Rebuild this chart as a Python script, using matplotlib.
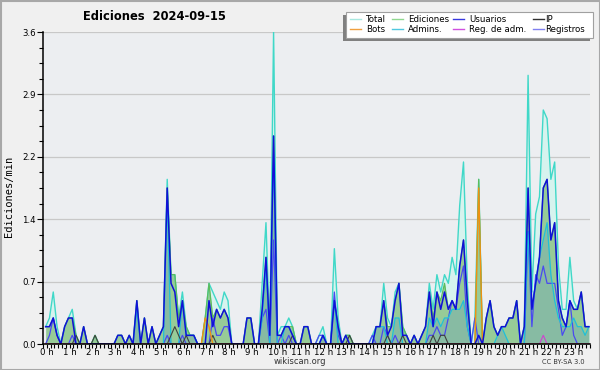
import numpy as np
import matplotlib
matplotlib.use('Agg')
from matplotlib import pyplot as plt
from matplotlib.patches import Rectangle
from matplotlib.ticker import FixedLocator, MultipleLocator


# edits per minute, one value per 10 minute bucket (144 buckets, 0h .. 23h50)
total = [
    .2, .3, .6, .2, 0, .2, .3, .4, .1, 0, .2, 0,
    0, .1, 0, 0, 0, 0, 0, .1, .1, 0, .1, 0,
    .5, 0, .3, 0, .2, 0, .1, .2, 1.9, .8, .8, .3,
    .6, .2, .1, .1, 0, 0, .3, .7, .6, .5, .4, .6,
    .5, 0, 0, 0, 0, .3, .3, 0, 0, .7, 1.4, .1,
    3.6, .1, .2, .2, .3, .2, 0, 0, .2, .2, 0, 0,
    .1, .2, 0, 0, 1.1, .3, 0, .1, .1, 0, 0, 0,
    0, 0, .1, .2, .2, .7, .3, .2, .6, .7, .2, .1,
    0, .1, 0, .1, .2, .7, .4, .8, .6, .8, .7, 1.0,
    .8, 1.6, 2.1, .7, 0, .3, 1.9, 0, .3, .5, .2, .1,
    .2, .2, .3, .3, .5, 0, .2, 3.1, .6, 1.5, 1.7, 2.7,
    2.6, 1.9, 2.1, .9, .4, .4, 1.0, .5, .4, .6, .2, .2]

ediciones = [
    .2, .2, .3, .1, 0, .2, .3, .3, .1, 0, .2, 0,
    0, .1, 0, 0, 0, 0, 0, .1, .1, 0, .1, 0,
    .5, 0, .3, 0, .2, 0, .1, .2, 1.8, .8, .8, .3,
    .5, .2, .1, .1, 0, 0, .3, .7, .3, .4, .3, .4,
    .3, 0, 0, 0, 0, .3, .3, 0, 0, .4, 1.0, .1,
    2.4, .1, .1, .2, .2, .2, 0, 0, .2, .2, 0, 0,
    0, .1, 0, 0, .5, .2, 0, .1, .1, 0, 0, 0,
    0, 0, 0, .2, .2, .5, .2, .2, .5, .7, .2, .1,
    0, .1, 0, .1, .2, .6, .3, .6, .5, .7, .4, .5,
    .4, .9, 1.2, .5, 0, 0, 1.9, 0, .3, .5, .2, .1,
    .2, .2, .3, .3, .5, 0, .2, 1.8, .4, .7, 1.0, 1.8,
    1.9, 1.2, 1.4, .5, .3, .2, .5, .4, .4, .6, .2, .2]

usuarios = [
    .2, .2, .3, .1, 0, .2, .3, .3, 0, 0, .2, 0,
    0, 0, 0, 0, 0, 0, 0, .1, .1, 0, .1, 0,
    .5, 0, .3, 0, .2, 0, .1, .2, 1.8, .7, .6, .2,
    .5, .1, .1, .1, 0, 0, 0, .5, .2, .4, .3, .4,
    .3, 0, 0, 0, 0, .3, .3, 0, 0, .4, 1.0, .1,
    2.4, .1, .1, .2, .2, .1, 0, 0, .2, .2, 0, 0,
    0, .1, 0, 0, .5, .2, 0, .1, 0, 0, 0, 0,
    0, 0, 0, .2, .2, .5, .1, .2, .5, .7, .1, .1,
    0, .1, 0, .1, .2, .6, .2, .6, .4, .6, .4, .5,
    .4, .9, 1.2, .5, 0, 0, .1, 0, .3, .5, .2, .1,
    .2, .2, .3, .3, .5, 0, .2, 1.8, .4, .7, 1.0, 1.8,
    1.9, 1.2, 1.4, .5, .3, .2, .5, .4, .4, .6, .2, .2]

ip = [
    0, 0, 0, 0, 0, 0, 0, 0, .1, 0, 0, 0,
    0, .1, 0, 0, 0, 0, 0, 0, 0, 0, 0, 0,
    0, 0, 0, 0, 0, 0, 0, 0, 0, .1, .2, .1,
    0, .1, 0, 0, 0, 0, 0, 0, .1, 0, 0, 0,
    0, 0, 0, 0, 0, 0, 0, 0, 0, 0, 0, 0,
    0, 0, 0, 0, 0, .1, 0, 0, 0, 0, 0, 0,
    0, 0, 0, 0, 0, 0, 0, 0, .1, 0, 0, 0,
    0, 0, 0, 0, 0, 0, .1, 0, 0, 0, .1, 0,
    0, 0, 0, 0, 0, 0, .1, 0, .1, .1, 0, 0,
    0, 0, 0, 0, 0, 0, 0, 0, 0, 0, 0, 0,
    0, 0, 0, 0, 0, 0, 0, 0, 0, 0, 0, 0,
    0, 0, 0, 0, 0, 0, 0, 0, 0, 0, 0, 0]

bots = [0] * 144
bots[42], bots[43], bots[114] = .3, .2, 1.8

admins = [
    0, 0, 0, 0, 0, 0, 0, 0, 0, 0, 0, 0,
    0, 0, 0, 0, 0, 0, 0, 0, 0, 0, 0, 0,
    .4, 0, 0, 0, 0, 0, 0, 0, 1.7, 0, 0, 0,
    .5, .1, .1, .1, 0, 0, 0, 0, 0, 0, 0, 0,
    0, 0, 0, 0, 0, 0, 0, 0, 0, .3, .9, 0,
    2.2, 0, 0, .2, .2, .1, 0, 0, 0, 0, 0, 0,
    0, .1, 0, 0, .5, 0, 0, 0, 0, 0, 0, 0,
    0, 0, 0, .2, .2, .2, 0, 0, .3, .3, 0, 0,
    0, 0, 0, 0, 0, .3, .2, .3, .2, .3, .3, .4,
    .4, .4, .5, .2, 0, 0, 0, 0, 0, 0, 0, .1,
    .2, .1, 0, 0, 0, 0, 0, 1.3, .4, .7, 1.0, 1.2,
    1.4, .8, .5, .3, .2, .2, .2, .3, .2, .2, .1, .2]

reg_adm = [0] * 144
reg_adm[131] = .1

registros = [
    0, .1, .3, .1, 0, 0, 0, .1, 0, 0, 0, 0,
    0, 0, 0, 0, 0, 0, 0, 0, 0, 0, 0, 0,
    0, 0, 0, 0, 0, 0, 0, 0, .1, 0, 0, 0,
    .1, 0, 0, 0, 0, 0, 0, 0, .3, .1, .1, .2,
    .2, 0, 0, 0, 0, 0, 0, 0, 0, .3, .4, 0,
    1.2, 0, .1, 0, .1, 0, 0, 0, 0, 0, 0, 0,
    .1, .1, 0, 0, .6, .1, 0, 0, 0, 0, 0, 0,
    0, 0, .1, 0, 0, .2, .1, 0, .1, 0, 0, 0,
    0, 0, 0, 0, 0, .1, .1, .2, .1, .1, .3, .5,
    .4, .7, .9, .2, 0, .3, 0, 0, 0, 0, 0, 0,
    0, 0, 0, 0, 0, 0, 0, 1.3, .2, .8, .7, .9,
    .7, .7, .7, .4, .1, .2, .5, .1, 0, 0, 0, 0]

hour_labels = [f'{h} h' for h in range(24)]
y_ticks = [0, 0.72, 1.44, 2.16, 2.88, 3.6]

# legend: label, colour, column, row
legend_items = [
    ('Total', '#a8e8e0', 0, 0), ('Ediciones', '#90d890', 1, 0),
    ('Usuarios', '#3838e0', 2, 0), ('IP', '#303030', 3, 0),
    ('Bots', '#f0a040', 0, 1), ('Admins.', '#50c8e0', 1, 1),
    ('Reg. de adm.', '#d050e0', 2, 1), ('Registros', '#8080f0', 3, 1),
]

x = np.arange(len(total)) + 0.7

fig = plt.figure(figsize=(6, 3.7), dpi=100, facecolor='#f0f0f0')
ax = fig.add_axes([43/600, 26/370, 547/600, 312/370])
ax.set_facecolor('#eceef1')

# filled areas
ax.fill_between(x, total, color='#d6f3ee', lw=0)
ax.fill_between(x, ediciones, color='#97cb97', lw=0)
ax.fill_between(x, admins, color='#5a8cc8', alpha=0.25, lw=0)

# lines
ax.plot(x, total, color='#40d8c8', lw=1.0)
ax.plot(x, ediciones, color='#5cbc5c', lw=0.9)
ax.plot(x, registros, color='#4a4af0', lw=0.9)
ax.plot(x, admins, color='#20c0d8', lw=0.9)
ax.plot(x, ip, color='#404040', lw=0.8)
ax.plot(x, bots, color='#f09010', lw=1.0)
ax.plot(x, reg_adm, color='#d040d0', lw=0.8)
ax.plot(x, usuarios, color='#1010d8', lw=1.1)

ax.set_xlim(0, 144)
ax.set_ylim(0, 3.6)

ax.xaxis.set_major_locator(FixedLocator(np.arange(0, 144, 6)))
ax.set_xticklabels(hour_labels)
ax.xaxis.set_minor_locator(MultipleLocator(1))
ax.set_yticks(y_ticks)
ax.set_yticklabels([f'{v:.1f}' for v in y_ticks])
ax.yaxis.set_minor_locator(MultipleLocator(0.18))

ax.tick_params(axis='both', which='major', labelsize=6.2, length=4,
               width=0.8, pad=1, colors='black')
ax.tick_params(axis='both', which='minor', length=3, width=0.8)
ax.tick_params(axis='x', which='both', length=3, pad=0)
for lab in ax.get_xticklabels():
    lab.set_horizontalalignment('left')
    lab.set_x(lab.get_position()[0])
ax.set_xticklabels(hour_labels, ha='left')
for lab in ax.get_xticklabels():
    lab.set_transform(lab.get_transform() +
                      matplotlib.transforms.ScaledTranslation(-3/100, 0, fig.dpi_scale_trans))

ax.yaxis.grid(True, color='#c8c8c8', lw=0.9)
ax.set_axisbelow(True)
for s in ['top', 'right']:
    ax.spines[s].set_visible(False)
for s in ['left', 'bottom']:
    ax.spines[s].set_linewidth(1.1)
    ax.spines[s].set_zorder(5)

# overlay in pixel coordinates for texts, legend and frame
lg = fig.add_axes([0, 0, 1, 1], facecolor='none')
lg.set_xlim(0, 600)
lg.set_ylim(370, 0)
lg.axis('off')

lg.add_patch(Rectangle((0.5, 0.5), 599, 369, fill=False, ec='#a8a8a8', lw=1.5))
lg.text(154, 17, 'Ediciones  2024-09-15', ha='center', va='center',
        fontsize=8.3, fontweight='bold')
lg.text(9, 196, 'Ediciones/min', rotation=90, ha='center', va='center',
        fontsize=7.5, family='DejaVu Sans Mono')
lg.text(300, 362, 'wikiscan.org', ha='center', va='center', fontsize=6,
        color='#333333')
lg.text(563, 362, 'CC BY-SA 3.0', ha='center', va='center', fontsize=4.8,
        color='#333333')

lg.add_patch(Rectangle((343, 15), 247, 26, color='#808080', lw=0))
lg.add_patch(Rectangle((346, 12), 247, 26, fc='white', ec='#a0a0a0', lw=0.8))
col_x = [350, 392, 453, 533]
text_x = [366, 408, 469, 545]
for label, color, c, r in legend_items:
    yy = 19 + r * 10
    lg.plot([col_x[c], col_x[c] + 11], [yy, yy], color=color, lw=1.0)
    lg.text(text_x[c], yy, label, ha='left', va='center', fontsize=6.2)

fig.savefig('out.png', dpi=100, facecolor=fig.get_facecolor())
